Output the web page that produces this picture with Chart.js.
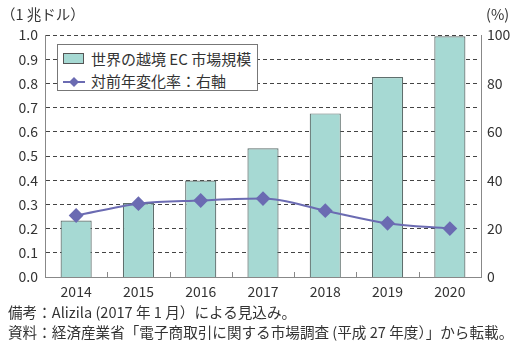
<!DOCTYPE html>
<html>
<head>
<meta charset="utf-8">
<script src="https://cdn.jsdelivr.net/npm/chart.js@4.4.0/dist/chart.umd.min.js"></script>
<style>
  body { margin: 0; background: #fff; }
  #wrap { position: relative; width: 529px; height: 351px; font-family: 'Noto Sans CJK JP', 'Noto Sans', sans-serif; color: #333; }
  #grid { position: absolute; left: 0; top: 0; width: 529px; height: 351px; z-index: 0; }
  #myChart { position: absolute; left: 0; top: 0; z-index: 1; }
  .gl { position: absolute; height: 1px; background: repeating-linear-gradient(to right, #444 0 4px, transparent 4px 7px); }
  .tk { position: absolute; width: 1px; height: 5px; background: #888; }
  .txt { position: absolute; font-size: 14.6px; white-space: nowrap; line-height: 1; z-index: 2; }
  #legend { position: absolute; left: 57px; top: 44px; width: 201px; height: 47px; border: 1px solid #777; background: #fff; box-sizing: border-box; z-index: 2; }
  .row { position: absolute; left: 5px; font-size: 15px; line-height: 1; white-space: nowrap; }
</style>
</head>
<body>
<div id="wrap">
  <div id="grid"></div>
  <canvas id="myChart" width="529" height="351"></canvas>
  <div class="txt" style="left:1px; top:7px; font-size:14.5px;">（1 兆ドル）</div>
  <div class="txt" style="left:486px; top:7px; font-size:14.5px;">(%)</div>
  <div id="legend">
    <div class="row" style="top:6px;"><span style="display:inline-block;width:19px;height:9px;background:#a6d9d3;border:1px solid #555;vertical-align:1px;margin-right:7px;"></span>世界の越境 EC 市場規模</div>
    <div class="row" style="top:28px;"><canvas id="legLine" width="22" height="12" style="vertical-align:-1px;margin-right:6px;"></canvas>対前年変化率：右軸</div>
  </div>
  <div class="txt" style="left:8px; top:305px;">備考：Alizila (2017 年 1 月）による見込み。</div>
  <div class="txt" style="left:8px; top:325px;">資料：経済産業省「電子商取引に関する市場調査 (平成 27 年度）」から転載。</div>
</div>
<script>
var years = ['2014', '2015', '2016', '2017', '2018', '2019', '2020'];
var marketSize = [0.233, 0.306, 0.399, 0.532, 0.676, 0.826, 0.995];   // 1兆ドル
var growthRate = [25.4, 30.3, 31.6, 32.4, 27.4, 22.2, 20.0];          // %

var barFill = '#a6d9d3';
var lineColor = '#6b6bb2';

// legend line + diamond
var lc = document.getElementById('legLine').getContext('2d');
lc.strokeStyle = lineColor; lc.lineWidth = 2;
lc.beginPath(); lc.moveTo(0, 6); lc.lineTo(22, 6); lc.stroke();
lc.fillStyle = lineColor;
lc.beginPath(); lc.moveTo(11, 1); lc.lineTo(16, 6); lc.lineTo(11, 11); lc.lineTo(6, 6); lc.closePath(); lc.fill();

var font = { family: "'Noto Sans CJK JP', 'Noto Sans', sans-serif", size: 14 };

var ctx = document.getElementById('myChart').getContext('2d');
var chart = new Chart(ctx, {
    type: 'bar',
    data: {
        labels: years,
        datasets: [{
            type: 'line',
            label: '対前年変化率：右軸',
            data: growthRate,
            yAxisID: 'y1',
            borderColor: lineColor,
            backgroundColor: lineColor,
            borderWidth: 2,
            fill: false,
            cubicInterpolationMode: 'monotone',
            pointStyle: 'rectRot',
            pointRadius: 6,
            pointHoverRadius: 6,
            order: 0
        }, {
            label: '世界の越境 EC 市場規模',
            data: marketSize,
            yAxisID: 'y',
            backgroundColor: barFill,
            borderColor: '#5f6f6d',
            borderWidth: 1.2,
            barPercentage: 1,
            categoryPercentage: 0.5,
            order: 1
        }]
    },
    options: {
        responsive: false,
        animation: false,
        layout: { padding: { top: 35, left: 0, right: 0, bottom: 0 } },
        plugins: { legend: { display: false }, tooltip: { enabled: false } },
        scales: {
            x: {
                offset: true,
                grid: { display: false, drawTicks: false },
                border: { color: '#888', width: 1 },
                ticks: { color: '#333', font: font, padding: 6 },
                afterFit: function(s){ s.height = 74; }
            },
            y: {
                min: 0, max: 1,
                ticks: { stepSize: 0.1, color: '#333', font: font, padding: 7,
                    callback: function(v){ return v.toFixed(1); } },
                grid: { display: false, drawTicks: false },
                border: { color: '#888', width: 1 },
                afterFit: function(s){ s.width = 45; }
            },
            y1: {
                position: 'right',
                min: 0, max: 100,
                ticks: { stepSize: 20, color: '#333', font: font, padding: 6 },
                grid: { drawOnChartArea: false, drawTicks: false },
                border: { color: '#888', width: 1 },
                afterFit: function(s){ s.width = 48; }
            }
        }
    }
});

// dashed grid lines and small category separators, placed behind the (transparent) canvas
// at the pixels the chart's own scales give
var gridBox = document.getElementById('grid');
var ys = chart.scales.y, xs = chart.scales.x, area = chart.chartArea;
ys.ticks.forEach(function(t){
    if (t.value === 0) return;
    var d = document.createElement('div');
    d.className = 'gl';
    d.style.left = (area.left + 1) + 'px';
    d.style.width = (area.right - area.left - 2) + 'px';
    d.style.top = Math.round(ys.getPixelForValue(t.value) - 0.5) + 'px';
    gridBox.appendChild(d);
});
for (var i = 1; i < years.length; i++){
    var tk = document.createElement('div');
    tk.className = 'tk';
    tk.style.left = Math.round((xs.getPixelForValue(i - 1) + xs.getPixelForValue(i)) / 2) + 'px';
    tk.style.top = Math.round(area.bottom - 5) + 'px';
    gridBox.appendChild(tk);
}
</script>
</body>
</html>
